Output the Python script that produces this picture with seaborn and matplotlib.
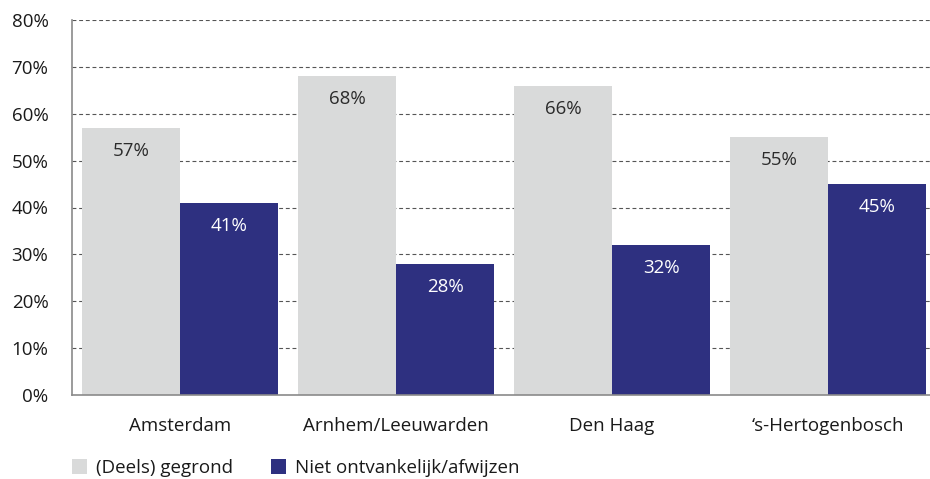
import matplotlib
matplotlib.use("Agg")
import matplotlib.pyplot as plt
import seaborn as sns
import pandas as pd
from matplotlib.ticker import FixedLocator, PercentFormatter

# Share of decisions per court location
locations = ["Amsterdam", "Arnhem/Leeuwarden", "Den Haag", "\u2018s-Hertogenbosch"]
series_names = ["(Deels) gegrond", "Niet ontvankelijk/afwijzen"]
gegrond = [57, 68, 66, 55]
afwijzen = [41, 28, 32, 45]
y_ticks = [0, 10, 20, 30, 40, 50, 60, 70, 80]

colors = ["#D9DADA", "#2E3080"]
label_colors = ["#2b2b2b", "#ffffff"]
FS = 13.5

df = pd.DataFrame({
    "locatie": locations * 2,
    "uitkomst": [series_names[0]] * 4 + [series_names[1]] * 4,
    "aandeel": gegrond + afwijzen,
})

sns.set_theme(style="white")
plt.rcParams["font.family"] = ["Open Sans", "DejaVu Sans"]

fig = plt.figure(figsize=(9.3, 4.79), dpi=100)
ax = fig.add_axes([72 / 930, 84 / 479, 858 / 930, 375 / 479])

sns.barplot(data=df, x="locatie", y="aandeel", hue="uitkomst",
            order=locations, hue_order=series_names, palette=colors,
            width=0.91, saturation=1, gap=0, ax=ax, legend=True,
            edgecolor="none", linewidth=0, zorder=3)

ax.set_ylim(0, 80)
ax.set_xlim(-0.5, 3.472)
ax.yaxis.set_major_locator(FixedLocator(y_ticks))
ax.yaxis.set_major_formatter(PercentFormatter(decimals=0))

# dashed horizontal gridlines
for v in y_ticks[1:]:
    ax.axhline(v, color="#555555", lw=0.8, ls=(0, (3.5, 2.5)), zorder=1)

for s in ["top", "right"]:
    ax.spines[s].set_visible(False)
for s in ["left", "bottom"]:
    ax.spines[s].set_color("#8a8a8a")
    ax.spines[s].set_linewidth(1.2)
    ax.spines[s].set_zorder(4)

ax.set_xlabel("")
ax.set_ylabel("")
ax.tick_params(axis="y", length=0, pad=17, labelsize=FS, labelcolor="#1a1a1a")
ax.tick_params(axis="x", which="major", length=0, pad=15.5, labelsize=FS, labelcolor="#1a1a1a")
ax.set_xticks([0.5, 1.5, 2.5], minor=True)
ax.tick_params(axis="x", which="minor", length=6, width=1, color="#8a8a8a", direction="out")
for lbl in ax.get_yticklabels():
    lbl.set_horizontalalignment("right")

# value labels just inside the top of each bar
for container, vals, col in zip(ax.containers, [gegrond, afwijzen], label_colors):
    for patch, v in zip(container.patches, vals):
        cx = patch.get_x() + patch.get_width() / 2
        ax.annotate(f"{v}%", xy=(cx, v), xytext=(0, -16.5), textcoords="offset points",
                    ha="center", va="center", fontsize=FS, color=col, zorder=5)

leg = ax.legend(loc="center left", bbox_to_anchor=(0.0, -0.195), ncol=2, frameon=False,
                fontsize=FS, handlelength=0.8, handleheight=0.8, handletextpad=0.5,
                columnspacing=2.0, borderaxespad=0, borderpad=0)
for t in leg.get_texts():
    t.set_color("#1a1a1a")

fig.savefig("out.png", dpi=100)
